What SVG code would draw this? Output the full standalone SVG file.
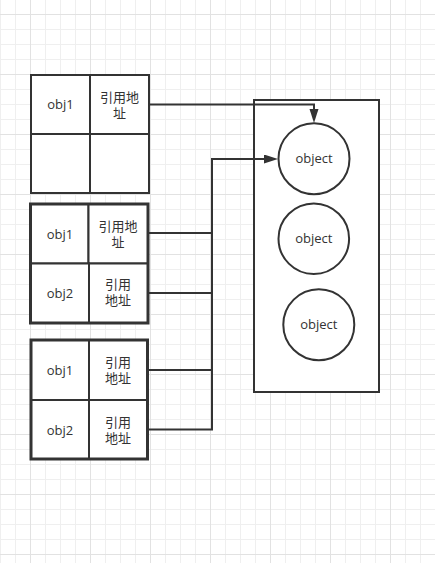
<svg xmlns="http://www.w3.org/2000/svg" width="435" height="563" viewBox="0 0 435 563">
  <defs>
    <pattern id="grid" x="30" y="14" width="60" height="60" patternUnits="userSpaceOnUse">
      <rect x="15" y="0" width="1" height="60" fill="#efefef"/>
      <rect x="30" y="0" width="1" height="60" fill="#efefef"/>
      <rect x="45" y="0" width="1" height="60" fill="#efefef"/>
      <rect x="0" y="15" width="60" height="1" fill="#efefef"/>
      <rect x="0" y="30" width="60" height="1" fill="#efefef"/>
      <rect x="0" y="45" width="60" height="1" fill="#efefef"/>
      <rect x="0" y="0" width="1" height="60" fill="#e2e2e2"/>
      <rect x="0" y="0" width="60" height="1" fill="#e2e2e2"/>
    </pattern>
    <marker id="arrow" markerUnits="userSpaceOnUse" markerWidth="14" markerHeight="10" refX="2" refY="4.5" orient="auto">
      <path d="M0,0 L14,4.5 L0,9 Z" fill="#333333"/>
    </marker>
  </defs>
  <style>
    .cell { fill: #ffffff; stroke: #333333; stroke-width: 2; }
    .outer { fill: none; stroke: #333333; stroke-width: 3; }
    .circ { fill: #ffffff; stroke: #333333; stroke-width: 2; }
    .edge { fill: none; stroke: #333333; stroke-width: 2; }
    text { font-family: "Open Sans", "Noto Sans CJK SC", sans-serif; font-size: 13px; fill: #333333; text-anchor: middle; }
  </style>
  <rect x="0" y="0" width="435" height="563" fill="#ffffff"/>
  <rect x="0" y="0" width="435" height="563" fill="url(#grid)"/>

  <g id="container">
    <rect x="254" y="100" width="125" height="292" fill="#ffffff" stroke="#333333" stroke-width="2"/>
  </g>

  <g id="table1">
    <rect class="cell" x="31" y="75" width="59" height="59"/>
    <rect class="cell" x="90" y="75" width="59" height="59"/>
    <rect class="cell" x="31" y="134" width="59" height="59"/>
    <rect class="cell" x="90" y="134" width="59" height="59"/>
    <text x="60.5" y="109">obj1</text>
    <text x="119.5" y="102">引用地<tspan x="119.5" dy="16">址</tspan></text>
  </g>

  <g id="table2">
    <rect class="cell" x="30.5" y="204" width="58" height="59.5"/>
    <rect class="cell" x="88.5" y="204" width="59.5" height="59.5"/>
    <rect class="cell" x="30.5" y="263.5" width="58.5" height="59.5"/>
    <rect class="cell" x="89" y="263.5" width="59" height="59.5"/>
    <rect class="outer" x="30.5" y="204" width="117.5" height="119"/>
    <text x="60" y="238.5">obj1</text>
    <text x="118" y="231">引用地<tspan x="118" dy="16">址</tspan></text>
    <text x="60" y="298">obj2</text>
    <text x="118" y="289">引用<tspan x="118" dy="16">地址</tspan></text>
  </g>

  <g id="table3">
    <rect class="cell" x="31" y="340" width="58" height="60"/>
    <rect class="cell" x="89" y="340" width="58.5" height="60"/>
    <rect class="cell" x="31" y="400" width="58" height="59"/>
    <rect class="cell" x="89" y="400" width="58.5" height="59"/>
    <rect class="outer" x="31" y="340" width="116.5" height="119"/>
    <text x="60" y="375">obj1</text>
    <text x="118" y="367">引用<tspan x="118" dy="16">地址</tspan></text>
    <text x="60" y="435">obj2</text>
    <text x="118" y="427">引用<tspan x="118" dy="16">地址</tspan></text>
  </g>

  <g id="object1">
    <circle class="circ" cx="314" cy="158.7" r="35.5"/>
    <text x="314" y="163">object</text>
  </g>
  <g id="object2">
    <circle class="circ" cx="313.8" cy="238.7" r="35.3"/>
    <text x="313.8" y="243">object</text>
  </g>
  <g id="object3">
    <circle class="circ" cx="318.8" cy="324.7" r="35.5"/>
    <text x="318.8" y="329">object</text>
  </g>

  <g id="connectors">
    <path class="edge" d="M149,104.5 L314,104.5 L314,111" marker-end="url(#arrow)"/>
    <path class="edge" d="M148,233 L212,233 L212,159 L266,159" marker-end="url(#arrow)"/>
    <path class="edge" d="M148,293 L212,293 L212,159 L266,159"/>
    <path class="edge" d="M148,370 L212,370 L212,159 L266,159"/>
    <path class="edge" d="M148,429.5 L212,429.5 L212,159 L266,159"/>
  </g>
</svg>
